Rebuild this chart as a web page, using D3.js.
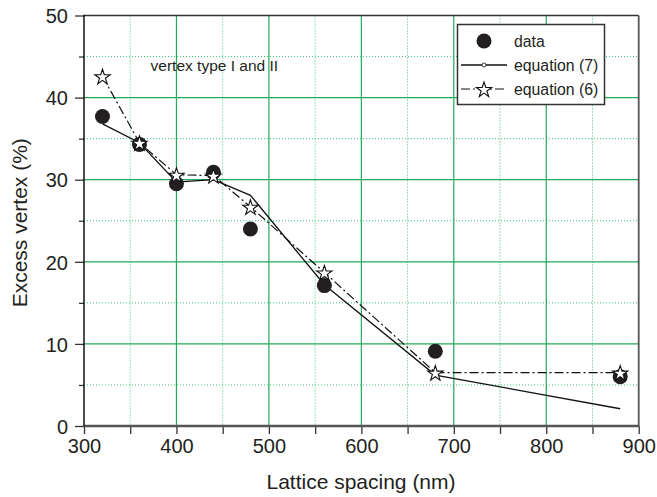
<!DOCTYPE html>
<html>
<head>
<meta charset="utf-8">
<script src="https://cdn.jsdelivr.net/npm/d3@7"></script>
<style>
  body { margin: 0; background: #fff; }
  svg { display: block; font-family: "Liberation Sans", Arial, sans-serif; }
</style>
</head>
<body>
<svg id="chart" width="657" height="497"></svg>
<script>
// ---- data ----
const spacing = [320, 360, 400, 440, 480, 560, 680, 880];
const dataValues = [37.7, 34.3, 29.5, 30.9, 24.0, 17.1, 9.1, 6.0];
const eq7Values = [36.8, 34.5, 29.7, 30.0, 28.1, 17.2, 6.2, 2.1];
const eq6Values = [42.6, 34.5, 30.6, 30.5, 26.7, 18.7, 6.5, 6.5];
const xMajorTicks = [300, 400, 500, 600, 700, 800, 900];
const xMinorTicks = [350, 450, 550, 650, 750, 850];
const yMajorTicks = [0, 10, 20, 30, 40, 50];
const yMinorTicks = [5, 15, 25, 35, 45];
const legendLabels = ["data", "equation (7)", "equation (6)"];
const annotation = "vertex type I and II";
const xTitle = "Lattice spacing (nm)";
const yTitle = "Excess vertex (%)";

// ---- layout ----
const L = 84, R = 638.7, T = 15.5, B = 426;
const svg = d3.select("#chart");
const x = d3.scaleLinear().domain([300, 900]).range([L, R]);
const y = d3.scaleLinear().domain([0, 50]).range([B, T]);

const majorGreen = "#22a95a", minorGreen = "#3cc277";
const textCol = "#231f20";

// grid
const g = svg.append("g");
g.selectAll(".vmin").data(xMinorTicks).join("line")
  .attr("x1", d => x(d)).attr("x2", d => x(d)).attr("y1", T).attr("y2", B)
  .attr("stroke", minorGreen).attr("stroke-width", 1).attr("stroke-dasharray", "1,2");
g.selectAll(".hmin").data(yMinorTicks).join("line")
  .attr("x1", L).attr("x2", R).attr("y1", d => y(d)).attr("y2", d => y(d))
  .attr("stroke", minorGreen).attr("stroke-width", 1).attr("stroke-dasharray", "1,2");
g.selectAll(".vmaj").data(xMajorTicks.slice(1, -1)).join("line")
  .attr("x1", d => x(d)).attr("x2", d => x(d)).attr("y1", T).attr("y2", B)
  .attr("stroke", majorGreen).attr("stroke-width", 1.2);
g.selectAll(".hmaj").data(yMajorTicks.slice(1, -1)).join("line")
  .attr("x1", L).attr("x2", R).attr("y1", d => y(d)).attr("y2", d => y(d))
  .attr("stroke", majorGreen).attr("stroke-width", 1.2);

// frame: top and right
svg.append("line").attr("x1", L).attr("x2", R).attr("y1", T).attr("y2", T)
  .attr("stroke", "#333").attr("stroke-width", 1.5);
svg.append("line").attr("x1", R).attr("x2", R).attr("y1", T).attr("y2", B)
  .attr("stroke", "#555").attr("stroke-width", 1.8);

// axes
const xAxisMinor = d3.axisBottom(x).tickValues(xMinorTicks).tickSize(8).tickFormat("");
const xAxis = d3.axisBottom(x).tickValues(xMajorTicks).tickSize(8).tickPadding(5).tickFormat(d3.format("d"));
const yAxisMinor = d3.axisLeft(y).tickValues(yMinorTicks).tickSize(5).tickFormat("");
const yAxis = d3.axisLeft(y).tickValues(yMajorTicks).tickSize(9).tickPadding(7).tickFormat(d3.format("d"));

function styleAxis(sel) {
  sel.select(".domain").remove();
  sel.selectAll(".tick line").attr("stroke", "#333").attr("stroke-width", 1.3);
  sel.selectAll(".tick text").attr("fill", textCol).attr("font-size", 20)
    .attr("font-family", "Liberation Sans, Arial, sans-serif");
}
svg.append("g").attr("transform", `translate(0,${B})`).call(xAxisMinor).call(styleAxis);
svg.append("g").attr("transform", `translate(0,${B})`).call(xAxis).call(styleAxis);
svg.append("g").attr("transform", `translate(${L},0)`).call(yAxisMinor).call(styleAxis);
svg.append("g").attr("transform", `translate(${L},0)`).call(yAxis).call(styleAxis);
svg.selectAll("g .tick text").each(function() {
  const t = d3.select(this);
  if (t.attr("x") !== null && +t.attr("x") < 0) t.attr("dy", "0.36em");
  else t.attr("dy", "0.72em");
});

// axis lines
svg.append("line").attr("x1", L).attr("x2", R).attr("y1", B).attr("y2", B)
  .attr("stroke", "#555").attr("stroke-width", 2.5);
svg.append("line").attr("x1", L).attr("x2", L).attr("y1", T - 0.75).attr("y2", B)
  .attr("stroke", "#111").attr("stroke-width", 1.5);

// titles
svg.append("text").attr("x", 361).attr("y", 489).attr("text-anchor", "middle")
  .attr("font-size", 21).attr("fill", textCol).text(xTitle);
svg.append("text").attr("transform", `translate(27,${(T + B) / 2 + 2}) rotate(-90)`)
  .attr("text-anchor", "middle").attr("font-size", 21).attr("fill", textCol).text(yTitle);

// annotation
svg.append("text").attr("x", x(372)).attr("y", y(43.2)).attr("font-size", 15.5)
  .attr("fill", textCol).text(annotation);

// series
const pts = (vals) => spacing.map((s, i) => [s, vals[i]]);
const line = d3.line().x(d => x(d[0])).y(d => y(d[1]));

svg.append("path").datum(pts(eq7Values)).attr("d", line)
  .attr("fill", "none").attr("stroke", "#111").attr("stroke-width", 1.3);
svg.append("path").datum(pts(eq6Values)).attr("d", line)
  .attr("fill", "none").attr("stroke", "#111").attr("stroke-width", 1.2)
  .attr("stroke-dasharray", "9,3,2,3");

svg.selectAll(".dot").data(pts(dataValues)).join("circle")
  .attr("cx", d => x(d[0])).attr("cy", d => y(d[1])).attr("r", 7.5).attr("fill", "#231f20");

const star = d3.symbol(d3.symbolStar).size(72);
svg.selectAll(".star").data(pts(eq6Values)).join("path")
  .attr("d", star).attr("transform", d => `translate(${x(d[0])},${y(d[1]) + 1})`)
  .attr("fill", "#fff").attr("stroke", "#111").attr("stroke-width", 1.1);

// legend
const lg = svg.append("g");
lg.append("rect").attr("x", 457.5).attr("y", 24.5).attr("width", 147).attr("height", 80)
  .attr("fill", "#fff").attr("stroke", "#333").attr("stroke-width", 1.5);
const lx = 484, ly = [41, 65, 89];
lg.append("circle").attr("cx", lx).attr("cy", ly[0]).attr("r", 7.5).attr("fill", "#231f20");
lg.append("line").attr("x1", 461).attr("x2", 507).attr("y1", ly[1]).attr("y2", ly[1])
  .attr("stroke", "#111").attr("stroke-width", 1.3);
lg.append("circle").attr("cx", lx).attr("cy", ly[1]).attr("r", 2).attr("fill", "#fff")
  .attr("stroke", "#111").attr("stroke-width", 0.8);
lg.append("line").attr("x1", 461).attr("x2", 507).attr("y1", ly[2]).attr("y2", ly[2])
  .attr("stroke", "#111").attr("stroke-width", 1.2).attr("stroke-dasharray", "9,3,2,3");
lg.append("path").attr("d", star).attr("transform", `translate(${lx},${ly[2] + 1})`)
  .attr("fill", "#fff").attr("stroke", "#111").attr("stroke-width", 1.1);
lg.selectAll(".lt").data(legendLabels).join("text")
  .attr("x", 514).attr("y", (d, i) => ly[i] + 6).attr("font-size", 15.8)
  .attr("fill", textCol).text(d => d);
</script>
</body>
</html>
